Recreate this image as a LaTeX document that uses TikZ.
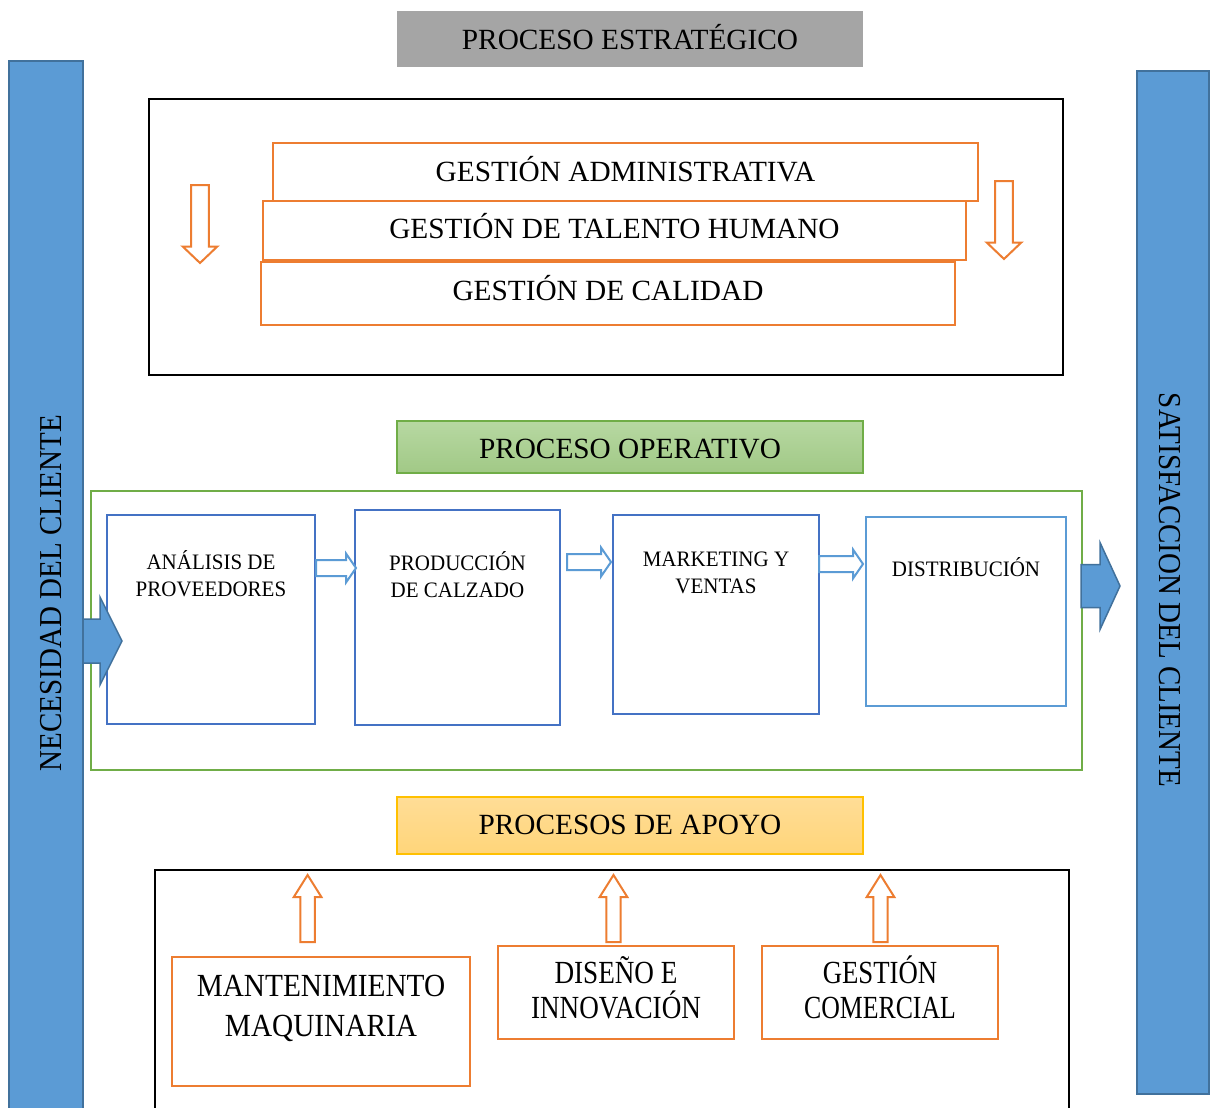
\documentclass[tikz,border=0pt]{standalone}
\usepackage{fontspec}
\setmainfont{Liberation Serif}
\usepackage{graphicx}
\usetikzlibrary{calc}

\definecolor{barblue}{HTML}{5B9BD5}
\definecolor{bardark}{HTML}{41719C}
\definecolor{boxblue}{HTML}{4472C4}
\definecolor{orng}{HTML}{ED7D31}
\definecolor{grn}{HTML}{70AD47}
\definecolor{grnA}{HTML}{B7D8A2}
\definecolor{grnB}{HTML}{A1C986}
\definecolor{ylw}{HTML}{FFC000}
\definecolor{ylwA}{HTML}{FFDD96}
\definecolor{ylwB}{HTML}{FFD57A}
\definecolor{gry}{HTML}{A5A5A5}

% lettering: size, horizontal factor, vertical factor, text
\newcommand\stx[4]{\scalebox{#2}[#3]{\fontsize{#1}{#1}\selectfont #4}}

% right-pointing block arrow: style, tail, tip, shaft half-width, head half-width, head length
\newcommand\hblock[6]{%
  \draw[#1] let \p1=(#2), \p2=(#3) in
    (\x1,\y1+#4) -- (\x2-#6,\y1+#4) -- (\x2-#6,\y1+#5) -- (\x2,\y1)
    -- (\x2-#6,\y1-#5) -- (\x2-#6,\y1-#4) -- (\x1,\y1-#4) -- cycle;}
% vertical block arrow: style, tail, tip, shaft half-width, head half-width, signed head length
\newcommand\vblock[6]{%
  \draw[#1] let \p1=(#2), \p2=(#3) in
    ({\x1-#4},{\y1}) -- ({\x1-#4},{\y2+(#6)}) -- ({\x1-#5},{\y2+(#6)}) -- ({\x2},{\y2})
    -- ({\x1+#5},{\y2+(#6)}) -- ({\x1+#4},{\y2+(#6)}) -- ({\x1+#4},{\y1}) -- cycle;}

\begin{document}
\begin{tikzpicture}[x=1pt,y=-1pt,
  rect/.style={rectangle, inner sep=0pt, outer sep=0pt},
  bar/.style={rect, fill=barblue, draw=bardark, line width=2pt},
  frame/.style={rect, draw=black, line width=2.5pt},
  obox/.style={rect, draw=orng, line width=2pt, fill=white},
  bbox/.style={rect, draw=boxblue, line width=2pt, fill=white},
  banner/.style={rect, minimum width=466pt},
  txt/.style={anchor=base, inner sep=0pt, outer sep=0pt},
  oarrow/.style={draw=orng, line width=2pt, fill=white, line join=miter},
  barrow/.style={draw=barblue, line width=2pt, fill=white, line join=miter},
  bigarrow/.style={fill=barblue, draw=bardark, line width=1.5pt, line join=miter}]

\fill[white] (0,0) rectangle (1213,1108);
\useasboundingbox (0,0) rectangle (1213,1108);

% side bars
\node[bar, minimum width=74pt, minimum height=1060pt] (nec) at (46,591) {};
\node[bar, minimum width=72pt, minimum height=1022pt] (sat) at (1173,582.5) {};
\node[txt, rotate=90] (necT) at (61,593) {\stx{29}{1}{1.1}{NECESIDAD DEL CLIENTE}};
\node[txt, rotate=-90] (satT) at (1159,590) {\stx{29}{1}{1.1}{SATISFACCION DEL CLIENTE}};

% strategic process
\node[banner, fill=gry, minimum height=56pt] (est) at (630,39) {};
\node[txt] (estT) at (630,50) {\stx{29.3}{1}{1}{PROCESO ESTRATÉGICO}};
\node[frame, minimum width=914pt, minimum height=276pt] (estbox) at (606,237) {};
\node[obox, minimum width=705pt, minimum height=58pt] (ga) at (625.5,172) {};
\node[obox, minimum width=703pt, minimum height=59pt] (gth) at (614.5,230.5) {};
\node[obox, minimum width=694pt, minimum height=63pt] (gc) at (608,293.5) {};
\node[txt] (gaT) at (625.5,181.7) {\stx{29.3}{1}{1}{GESTIÓN ADMINISTRATIVA}};
\node[txt] (gthT) at (614.5,238.3) {\stx{29.3}{1}{1}{GESTIÓN DE TALENTO HUMANO}};
\node[txt] (gcT) at (608,300.5) {\stx{29.3}{1}{1}{GESTIÓN DE CALIDAD}};
\coordinate (dl1) at (200,185);  \coordinate (dl2) at (200,263);
\coordinate (dr1) at (1004,181); \coordinate (dr2) at (1004,259);
\vblock{oarrow}{dl1}{dl2}{8.8pt}{17.3pt}{16.5pt}
\vblock{oarrow}{dr1}{dr2}{8.8pt}{17.3pt}{16.5pt}

% operative process
\node[banner, top color=grnA, bottom color=grnB, draw=grn, line width=1.5pt, minimum height=52pt] (op) at (630,447) {};
\node[txt] (opT) at (630,458) {\stx{29.3}{1}{1}{PROCESO OPERATIVO}};
\node[rect, draw=grn, line width=2pt, minimum width=991pt, minimum height=279pt] (opbox) at (586.5,630.5) {};

\node[bbox, minimum width=208pt, minimum height=209pt] (ana) at (211,619.5) {};
\node[bbox, minimum width=205pt, minimum height=215pt] (prod) at (457.5,617.5) {};
\node[bbox, minimum width=206pt, minimum height=199pt] (mkt) at (716,614.5) {};
\node[bbox, draw=barblue, minimum width=200pt, minimum height=189pt] (dist) at (966,611.5) {};
\node[txt] (anaT1) at (211,569) {\stx{21}{1}{1.05}{ANÁLISIS DE}};
\node[txt] (anaT2) at (211,596) {\stx{21}{1}{1.05}{PROVEEDORES}};
\node[txt] (prodT1) at (457.5,570) {\stx{21}{1}{1.05}{PRODUCCIÓN}};
\node[txt] (prodT2) at (457.5,597) {\stx{21}{1}{1.05}{DE CALZADO}};
\node[txt] (mktT1) at (716,566.5) {\stx{21}{1}{1.05}{MARKETING Y}};
\node[txt] (mktT2) at (716,593.5) {\stx{21}{1}{1.05}{VENTAS}};
\node[txt] (distT) at (966,576) {\stx{21}{1}{1.05}{DISTRIBUCIÓN}};

\path (ana.east |- 0,568) ++(1,0) coordinate (s1a);
\path (prod.west |- 0,568) ++(1,0) coordinate (s1b);
\path (prod.east |- 0,562) ++(7,0) coordinate (s2a);
\path (mkt.west |- 0,562) ++(-2,0) coordinate (s2b);
\path (mkt.east |- 0,564) coordinate (s3a);
\path (dist.west |- 0,564) ++(-3,0) coordinate (s3b);
\hblock{barrow}{s1a}{s1b}{8pt}{14.5pt}{10pt}
\hblock{barrow}{s2a}{s2b}{8pt}{14.5pt}{10pt}
\hblock{barrow}{s3a}{s3b}{8pt}{14.5pt}{10pt}

% support processes
\node[banner, top color=ylwA, bottom color=ylwB, draw=ylw, line width=1.5pt, minimum height=57pt] (ap) at (630,825.5) {};
\node[txt] (apT) at (630,834.5) {\stx{29.3}{1}{1}{PROCESOS DE APOYO}};
\node[frame, minimum width=914pt, minimum height=250pt] (apbox) at (612,995) {};

\node[obox, minimum width=298pt, minimum height=129pt] (mant) at (321,1021.5) {};
\node[obox, minimum width=236pt, minimum height=93pt] (dis) at (616,992.5) {};
\node[obox, minimum width=236pt, minimum height=93pt] (gcom) at (880,992.5) {};
\node[txt] (mantT1) at (321,996.5) {\stx{29.3}{1}{1.1}{MANTENIMIENTO}};
\node[txt] (mantT2) at (321,1036.5) {\stx{29.3}{1}{1.1}{MAQUINARIA}};
\node[txt] (disT1) at (616,983.5) {\stx{29.3}{0.927}{1.1}{DISEÑO E}};
\node[txt] (disT2) at (616,1018.5) {\stx{29.3}{0.927}{1.1}{INNOVACIÓN}};
\node[txt] (gcomT1) at (880,983.5) {\stx{29.3}{0.913}{1.1}{GESTIÓN}};
\node[txt] (gcomT2) at (880,1018.5) {\stx{29.3}{0.88}{1.1}{COMERCIAL}};

\coordinate (u1a) at (307.6,942); \coordinate (u1b) at (307.6,875);
\coordinate (u2a) at (613.5,942); \coordinate (u2b) at (613.5,875);
\coordinate (u3a) at (880.5,942); \coordinate (u3b) at (880.5,875);
\vblock{oarrow}{u1a}{u1b}{7.2pt}{13.8pt}{-22pt}
\vblock{oarrow}{u2a}{u2b}{7.2pt}{13.8pt}{-22pt}
\vblock{oarrow}{u3a}{u3b}{7.2pt}{13.8pt}{-22pt}

% customer flow arrows
\path (nec.east |- 0,641) coordinate (inA);
\path (ana.west |- 0,641) ++(15,0) coordinate (inB);
\path (opbox.east |- 0,586) ++(-1,0) coordinate (outA);
\path (sat.west |- 0,586) ++(-17,0) coordinate (outB);
\hblock{bigarrow}{inA}{inB}{22pt}{44pt}{22pt}
\hblock{bigarrow}{outA}{outB}{21.5pt}{43.5pt}{20pt}

\end{tikzpicture}
\end{document}
